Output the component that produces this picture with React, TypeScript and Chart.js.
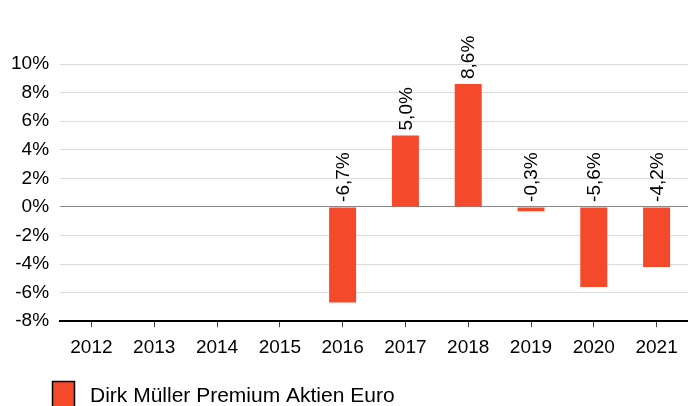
import React, { useEffect, useRef } from "react";
import { Chart, registerables } from "chart.js";

Chart.register(...registerables);

const categories = ["2012", "2013", "2014", "2015", "2016", "2017", "2018", "2019", "2020", "2021"];
const seriesName = "Dirk Müller Premium Aktien Euro";
const values: (number | null)[] = [null, null, null, null, -6.7, 5.0, 8.6, -0.3, -5.6, -4.2];
const yTicks = [-8, -6, -4, -2, 0, 2, 4, 6, 8, 10];

const BAR_COLOR = "#F4492A";
const FONT = "'Liberation Sans', Arial, sans-serif";

const labelPlugin = {
  id: "barLabels",
  afterDatasetsDraw(chart: any) {
    const { ctx } = chart;
    const meta = chart.getDatasetMeta(0);
    const yScale = chart.scales.y;
    const zeroY = yScale.getPixelForValue(0);
    ctx.save();
    ctx.font = "19px " + FONT;
    ctx.fillStyle = "#000";
    ctx.textAlign = "left";
    ctx.textBaseline = "middle";
    meta.data.forEach((bar: any, i: number) => {
      const v = values[i];
      if (v === null || v === undefined) return;
      const top = v >= 0 ? bar.y : zeroY;
      const text = v.toFixed(1).replace(".", ",") + "%";
      ctx.save();
      ctx.translate(bar.x + 1, top - 5);
      ctx.rotate(-Math.PI / 2);
      ctx.fillText(text, 0, 0);
      ctx.restore();
    });
    ctx.restore();
  },
};

const legendPlugin = {
  id: "customLegend",
  afterDraw(chart: any) {
    const { ctx } = chart;
    ctx.save();
    const bx = 52.5;
    const by = 381.5;
    ctx.fillStyle = BAR_COLOR;
    ctx.fillRect(bx, by, 22, 28);
    ctx.strokeStyle = "#000";
    ctx.lineWidth = 1.5;
    ctx.strokeRect(bx, by, 22, 28);
    ctx.fillStyle = "#000";
    ctx.font = "21px " + FONT;
    ctx.textAlign = "left";
    ctx.textBaseline = "alphabetic";
    ctx.fillText(seriesName, 90, 402);
    ctx.restore();
  },
};

export default function App() {
  const ref = useRef<HTMLCanvasElement>(null);
  useEffect(() => {
    document.body.style.margin = "0";
    const chart = new Chart(ref.current!, {
      type: "bar",
      data: {
        labels: categories,
        datasets: [
          {
            label: seriesName,
            data: values,
            backgroundColor: BAR_COLOR,
            borderWidth: 0,
            barPercentage: 0.43,
            categoryPercentage: 1,
          },
        ],
      },
      options: {
        animation: false,
        responsive: false,
        maintainAspectRatio: false,
        layout: { padding: { top: 64, left: 0, right: 0, bottom: 38 } },
        plugins: {
          tooltip: { enabled: false },
          legend: { display: false },
        },
        scales: {
          x: {
            grid: {
              offset: false,
              drawOnChartArea: false,
              drawTicks: true,
              tickLength: 6,
              color: "#444",
            },
            border: { color: "#000", width: 2 },
            ticks: {
              color: "#000",
              padding: 9,
              maxRotation: 0,
              font: { size: 19, family: FONT },
            },
          },
          y: {
            min: -8,
            max: 10,
            afterBuildTicks: (axis: any) => {
              axis.ticks = yTicks.map((v) => ({ value: v }));
            },
            grid: {
              drawTicks: false,
              color: (c: any) => (c.tick && c.tick.value === 0 ? "#888" : "#dcdcdc"),
              lineWidth: 1,
            },
            border: { display: false },
            ticks: {
              color: "#000",
              padding: 11,
              font: { size: 19, family: FONT },
              callback: (v: any) => v + "%",
            },
          },
        },
      },
      plugins: [labelPlugin, legendPlugin],
    });
    return () => chart.destroy();
  }, []);
  return (
    <div style={{ width: 688, height: 406, overflow: "hidden" }}>
      <canvas ref={ref} width={688} height={406} style={{ display: "block" }} />
    </div>
  );
}
